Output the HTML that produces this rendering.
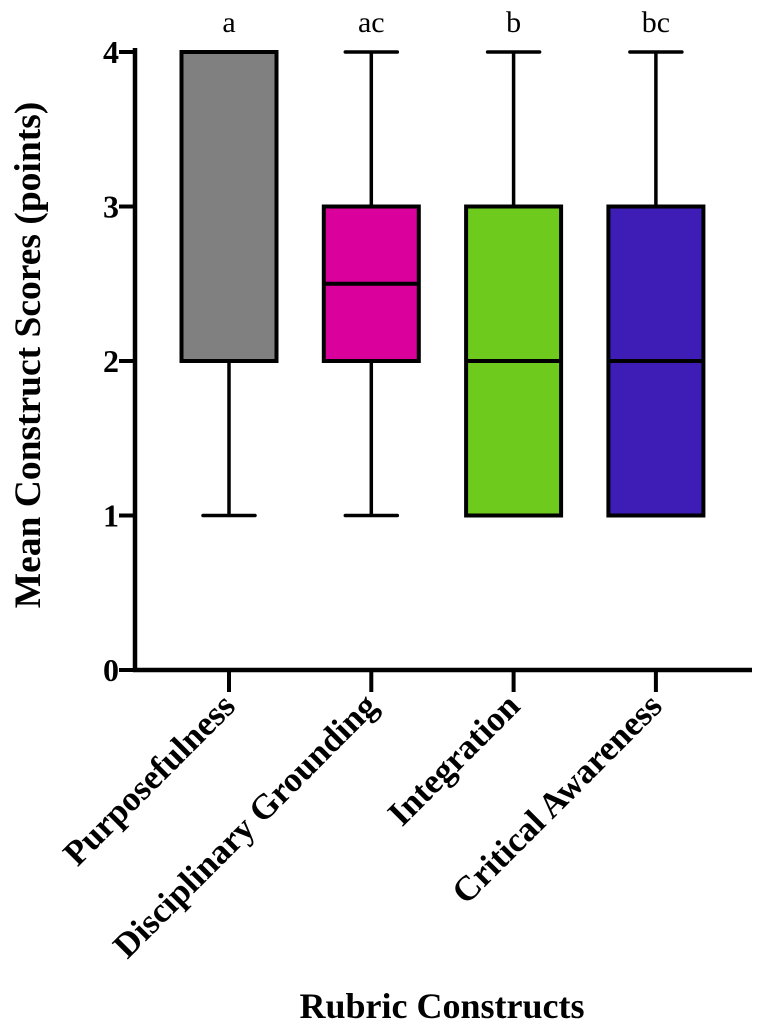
<!DOCTYPE html>
<html><head><meta charset="utf-8"><style>
html,body{margin:0;padding:0;background:#fff;}
svg{display:block;font-family:"Liberation Serif",serif;}
</style></head><body>
<svg id="chart" width="760" height="1027" viewBox="0 0 760 1027"></svg>
<script>
const categories=["Purposefulness","Disciplinary Grounding","Integration","Critical Awareness"];
const mins=[1,1,1,1];
const q1s=[2,2,1,1];
const medians=[2,2.5,2,2];
const q3s=[4,3,3,3];
const maxs=[4,4,4,4];
const colors=["#808080","#d9009b","#6fca1e","#3d1db5"];
const letters=["a","ac","b","bc"];
const yTicks=[0,1,2,3,4];

const NS="http://www.w3.org/2000/svg";
const svg=document.getElementById('chart');
const x0=135,x1=752,yBase=670,yTop=52;
const y=v=>yBase-(yBase-yTop)*v/4;
const xc=i=>229+i*142.3;
function mk(t,a,p){const e=document.createElementNS(NS,t);for(const k in a)e.setAttribute(k,a[k]);(p||svg).appendChild(e);return e;}

categories.forEach((c,i)=>{
  const g=mk('g',{});
  
  
  const cx=xc(i),bw=95,cw=52;
  mk('line',{x1:cx,x2:cx,y1:y(maxs[i]),y2:y(q3s[i]),stroke:'#000','stroke-width':3.5},g);
  mk('line',{x1:cx,x2:cx,y1:y(q1s[i]),y2:y(mins[i]),stroke:'#000','stroke-width':3.5},g);
  mk('line',{x1:cx-cw/2,x2:cx+cw/2,y1:y(maxs[i]),y2:y(maxs[i]),stroke:'#000','stroke-width':3.5,'stroke-linecap':'round'},g);
  mk('line',{x1:cx-cw/2,x2:cx+cw/2,y1:y(mins[i]),y2:y(mins[i]),stroke:'#000','stroke-width':3.5,'stroke-linecap':'round'},g);
  mk('rect',{x:cx-bw/2,y:y(q3s[i]),width:bw,height:y(q1s[i])-y(q3s[i]),fill:colors[i],stroke:'#000','stroke-width':4},g);
  mk('line',{x1:cx-bw/2,x2:cx+bw/2,y1:y(medians[i]),y2:y(medians[i]),stroke:'#000','stroke-width':4},g);
  const lt=mk('text',{x:cx,y:32,'text-anchor':'middle','font-size':30});
  lt.textContent=letters[i];
  
  
  mk('line',{x1:cx,x2:cx,y1:yBase,y2:yBase+22,stroke:'#000','stroke-width':4});
  const tl=mk('text',{x:0,y:0,'text-anchor':'end','font-size':35,'font-weight':'bold',transform:`translate(${cx+8},${yBase+38}) rotate(-45)`});
  tl.textContent=c;
  
  
});

yTicks.forEach(v=>{
  mk('line',{x1:x0-16,x2:x0,y1:y(v),y2:y(v),stroke:'#000','stroke-width':4});
  const t=mk('text',{x:x0-16,y:y(v)+11,'text-anchor':'end','font-size':32,'font-weight':'bold'});
  t.textContent=v;
  
  
});
const ya=mk('line',{x1:x0,x2:x0,y1:yTop-4,y2:yBase+2,stroke:'#000','stroke-width':4.5});


const xa=mk('line',{x1:x0-2,x2:x1,y1:yBase,y2:yBase,stroke:'#000','stroke-width':4.5});



const yt=mk('text',{x:0,y:0,'text-anchor':'middle','font-size':37.5,'font-weight':'bold',transform:'translate(40,355) rotate(-90)'});
yt.textContent='Mean Construct Scores (points)';


const xt=mk('text',{x:442,y:1018,'text-anchor':'middle','font-size':36,'font-weight':'bold'});
xt.textContent='Rubric Constructs';


</script>
</body></html>
